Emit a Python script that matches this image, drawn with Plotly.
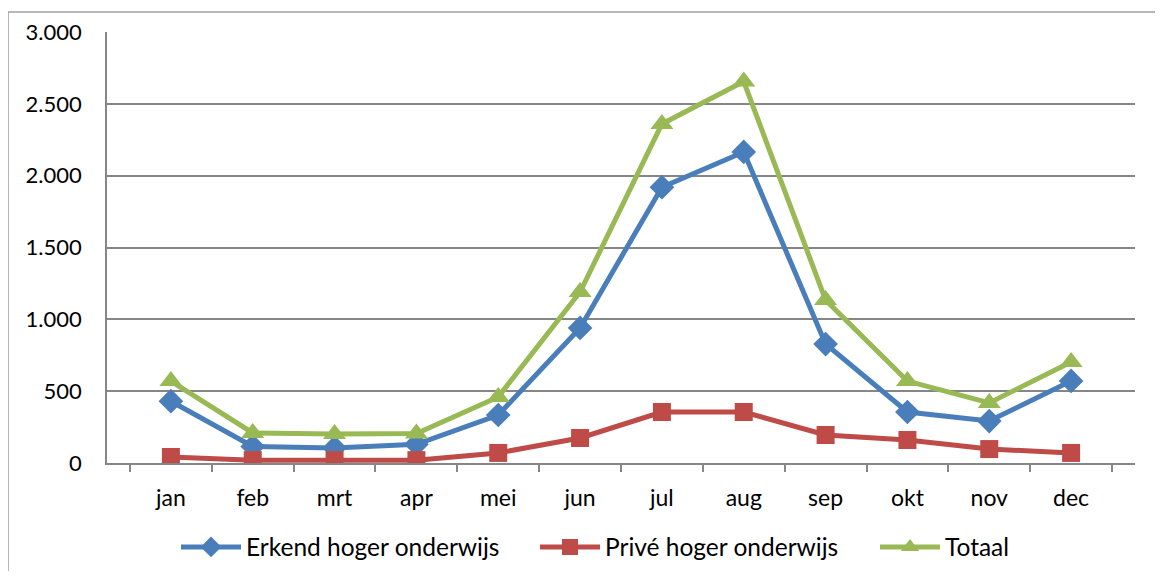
import plotly.graph_objects as go

months = ["jan", "feb", "mrt", "apr", "mei", "jun", "jul", "aug", "sep", "okt", "nov", "dec"]
erkend = [430, 115, 105, 130, 334, 940, 1920, 2165, 828, 355, 292, 571]
prive = [42, 20, 20, 20, 70, 174, 355, 355, 195, 160, 97, 70]
totaal = [570, 209, 202, 205, 460, 1190, 2360, 2655, 1134, 570, 418, 703]

series = [
    ("Erkend hoger onderwijs", erkend, "#4A7EBB", "diamond", 19),
    ("Privé hoger onderwijs", prive, "#BE4B48", "square", 18),
    ("Totaal", totaal, "#98B954", "triangle-up", 20),
]

# page body has an 8px margin: figure coordinates are page coordinates minus 8
OFF = 8
W, H = 1163 - 2 * OFF, 579 - 2 * OFF
L, R, T, B = 107 - OFF, 1135 - OFF, 32 - OFF, 463 - OFF

fig = go.Figure()
legend_names = ["legend", "legend2", "legend3"]
legend_start_px = [186, 545, 885]  # page x of each legend entry's line start
for (name, vals, col, sym, sz), lg in zip(series, legend_names):
    fig.add_trace(go.Scatter(
        x=months, y=vals, name=name, mode="lines+markers", legend=lg,
        line=dict(color=col, width=5),
        marker=dict(symbol=sym, size=sz, color=col),
    ))

legend_y = (B - (547 - OFF)) / (B - T)
legend_common = dict(orientation="h", yanchor="middle", xanchor="left", y=legend_y,
                     font=dict(size=24.5), itemwidth=60, bgcolor="rgba(0,0,0,0)")
legend_layouts = {}
for lg, px in zip(legend_names, legend_start_px):
    legend_layouts[lg] = dict(legend_common, x=(px - OFF - L - 10) / (R - L))

fig.update_layout(
    width=W, height=H,
    margin=dict(l=L, r=W - R, t=T, b=H - B, pad=0, autoexpand=False),
    paper_bgcolor="white", plot_bgcolor="white",
    separators=",.",
    font=dict(family="Lato, 'Open Sans', sans-serif", size=22, color="#000000"),
    showlegend=True,
    xaxis=dict(
        type="category", showgrid=False, showline=True, linecolor="#868686", linewidth=1.5,
        ticks="outside", tickson="boundaries", ticklen=7, tickcolor="#868686", tickwidth=1.5,
        tickfont=dict(size=23), ticklabelstandoff=14, automargin=False,
    ),
    yaxis=dict(
        range=[0, 3000], dtick=500, tickformat=",d", showgrid=True, gridcolor="#868686", gridwidth=1.5,
        showline=True, linecolor="#868686", linewidth=1.5, zeroline=False, ticks="",
        tickfont=dict(size=22), ticklabelstandoff=19, automargin=False,
    ),
    shapes=[dict(type="rect", xref="paper", yref="paper",
                 x0=(8 - OFF - L) / (R - L), x1=(1160 - OFF - L) / (R - L),
                 y0=(B - (576 - OFF)) / (B - T), y1=(B - (12 - OFF)) / (B - T),
                 line=dict(color="#A0A0A0", width=1.5), layer="below")],
    **legend_layouts,
)

fig.write_html("out.html")
